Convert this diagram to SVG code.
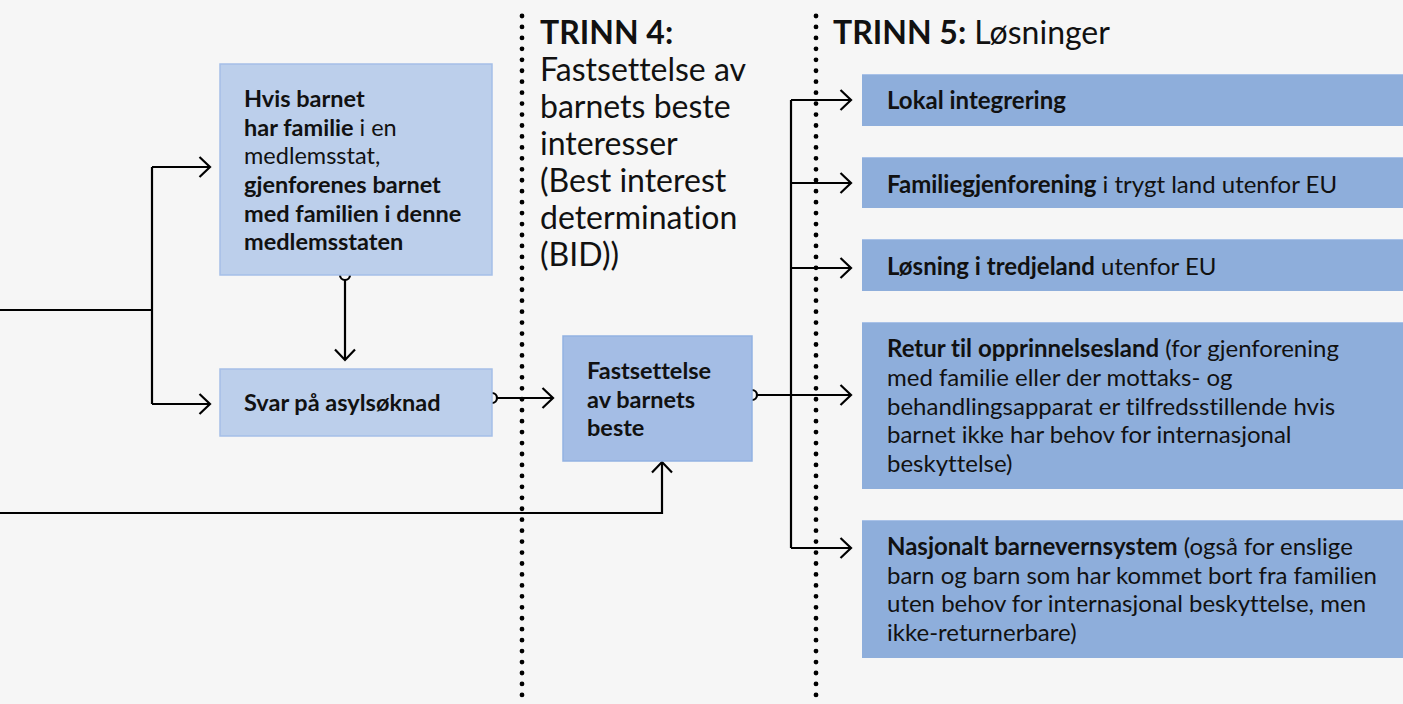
<svg xmlns="http://www.w3.org/2000/svg" width="1403" height="704" viewBox="0 0 1403 704">
<defs>
<style>
text{font-family:Lato,"Liberation Sans",sans-serif;fill:#111;font-variant-ligatures:none;}
.t{font-size:23.5px;}
.r{font-size:24px;}
.h{font-size:32px;}
.b{font-weight:700;}
.c{fill:none;stroke:#000;stroke-width:2.2;}
.dot{fill:none;stroke:#000;stroke-width:4.8;stroke-linecap:round;stroke-dasharray:0 10.95;}
.n1{fill:#bccfeb;stroke:#a5bfe8;stroke-width:1.5;}
.n2{fill:#a4bde5;stroke:#92b2e2;stroke-width:1.5;}
.n3{fill:#8eaedb;}
.n3t{fill:none;stroke:#a9c2e8;stroke-width:1.2;}
</style>
<marker id="arr" viewBox="0 0 14 24" refX="12" refY="12" markerWidth="14" markerHeight="24" markerUnits="userSpaceOnUse" orient="auto">
<path d="M1.5,2 L12,12 L1.5,22" fill="none" stroke="#000" stroke-width="2.2"/>
</marker>
</defs>
<rect width="1403" height="704" fill="#f6f6f6"/>

<g id="dividers">
<line class="dot" x1="522" y1="16" x2="522" y2="704"/>
<line class="dot" x1="816" y1="16" x2="816" y2="704"/>
</g>

<g id="connectors">
<path class="c" d="M0,310 H152"/>
<path class="c" d="M152,167 V404"/>
<path class="c" d="M152,167 H210" marker-end="url(#arr)"/>
<path class="c" d="M152,404 H210" marker-end="url(#arr)"/>
<circle class="c" cx="345" cy="275" r="5"/>
<path class="c" d="M345,280 V360" marker-end="url(#arr)"/>
<circle class="c" cx="492" cy="398" r="5"/>
<path class="c" d="M497,398 H553" marker-end="url(#arr)"/>
<path class="c" d="M0,513 H662 V462" marker-end="url(#arr)"/>
<circle class="c" cx="752" cy="395" r="5"/>
<path class="c" d="M757,395 H851" marker-end="url(#arr)"/>
<path class="c" d="M791,100 V548"/>
<path class="c" d="M791,100 H851" marker-end="url(#arr)"/>
<path class="c" d="M791,183 H851" marker-end="url(#arr)"/>
<path class="c" d="M791,268 H851" marker-end="url(#arr)"/>
<path class="c" d="M791,548 H851" marker-end="url(#arr)"/>
</g>

<g id="family">
<rect class="n1" x="220" y="64" width="272" height="211"/>
<text class="t" x="244">
<tspan x="244" y="107" class="b">Hvis barnet</tspan>
<tspan x="244" y="135.5"><tspan class="b">har familie</tspan> i en</tspan>
<tspan x="244" y="164">medlemsstat,</tspan>
<tspan x="244" y="193" class="b">gjenforenes barnet</tspan>
<tspan x="244" y="221.5" class="b">med familien i denne</tspan>
<tspan x="244" y="250" class="b">medlemsstaten</tspan>
</text>
</g>

<g id="asyl">
<rect class="n1" x="220" y="369" width="272" height="67"/>
<text class="t b" x="244" y="411">Svar på asylsøknad</text>
</g>

<g id="step4">
<text class="h">
<tspan x="540" y="44" class="b">TRINN 4:</tspan>
<tspan x="540" y="81">Fastsettelse av</tspan>
<tspan x="540" y="118">barnets beste</tspan>
<tspan x="540" y="155">interesser</tspan>
<tspan x="540" y="192">(Best interest</tspan>
<tspan x="540" y="229">determination</tspan>
<tspan x="540" y="266">(BID))</tspan>
</text>
</g>

<g id="bid">
<rect class="n2" x="563" y="336" width="189" height="125"/>
<text class="t b">
<tspan x="587" y="379">Fastsettelse</tspan>
<tspan x="587" y="407.5">av barnets</tspan>
<tspan x="587" y="436">beste</tspan>
</text>
</g>

<g id="step5">
<text class="h" x="833" y="44"><tspan class="b">TRINN 5:</tspan> Løsninger</text>
</g>

<g id="local">
<rect class="n3" x="862" y="74" width="541" height="52"/>
<line class="n3t" x1="862" y1="74.5" x2="1403" y2="74.5"/>
<text class="r b" x="887" y="109">Lokal integrering</text>
</g>

<g id="familyreunion">
<rect class="n3" x="862" y="157" width="541" height="51"/>
<line class="n3t" x1="862" y1="157.5" x2="1403" y2="157.5"/>
<text class="r" x="887" y="193"><tspan class="b">Familiegjenforening</tspan> i trygt land utenfor EU</text>
</g>

<g id="thirdcountry">
<rect class="n3" x="862" y="239" width="541" height="52"/>
<line class="n3t" x1="862" y1="239.5" x2="1403" y2="239.5"/>
<text class="r" x="887" y="275"><tspan class="b">Løsning i tredjeland</tspan> utenfor EU</text>
</g>

<g id="return">
<rect class="n3" x="862" y="322" width="541" height="167"/>
<line class="n3t" x1="862" y1="322.5" x2="1403" y2="322.5"/>
<text class="r">
<tspan x="887" y="357"><tspan class="b">Retur til opprinnelsesland</tspan> (for gjenforening</tspan>
<tspan x="887" y="386">med familie eller der mottaks- og</tspan>
<tspan x="887" y="414.5">behandlingsapparat er tilfredsstillende hvis</tspan>
<tspan x="887" y="443">barnet ikke har behov for internasjonal</tspan>
<tspan x="887" y="472">beskyttelse)</tspan>
</text>
</g>

<g id="childwelfare">
<rect class="n3" x="862" y="520" width="541" height="138"/>
<line class="n3t" x1="862" y1="520.5" x2="1403" y2="520.5"/>
<text class="r">
<tspan x="887" y="555"><tspan class="b">Nasjonalt barnevernsystem</tspan> (også for enslige</tspan>
<tspan x="887" y="583.5">barn og barn som har kommet bort fra familien</tspan>
<tspan x="887" y="612">uten behov for internasjonal beskyttelse, men</tspan>
<tspan x="887" y="640.5">ikke-returnerbare)</tspan>
</text>
</g>
</svg>
